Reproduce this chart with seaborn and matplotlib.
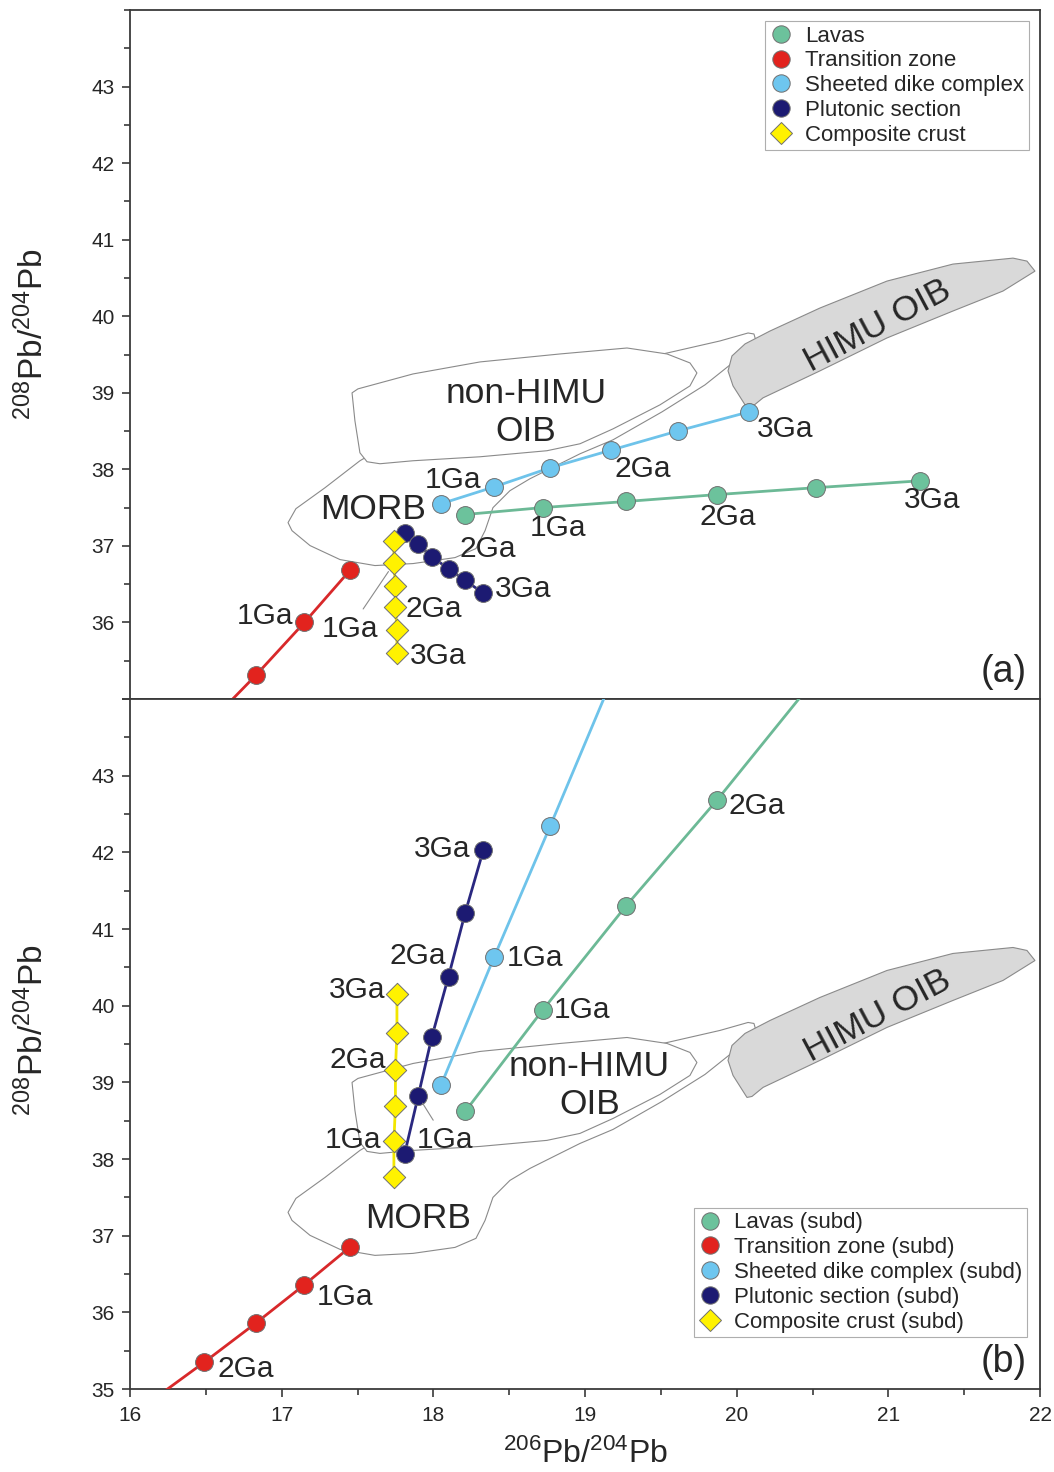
import numpy as np
import pandas as pd
import matplotlib
matplotlib.use("Agg")
import matplotlib.pyplot as plt
import seaborn as sns
from matplotlib.patches import Polygon
from matplotlib.lines import Line2D
from matplotlib.ticker import MultipleLocator

# ---------------------------------------------------------------------------
# Model evolution paths (points every 0.5 Ga, 0.5 -> 3 Ga)
# ---------------------------------------------------------------------------
lavas_x = [18.21, 18.72, 19.27, 19.87, 20.52, 21.21]
lavas_y_a = [37.41, 37.50, 37.58, 37.67, 37.76, 37.85]
lavas_y_b = [38.62, 39.94, 41.30, 42.68, 44.27, 45.96]

tz_x = [17.45, 17.15, 16.83, 16.49, 16.13, 15.75]
tz_y_a = [36.68, 36.00, 35.31, 34.62, 33.90, 33.15]
tz_y_b = [36.85, 36.36, 35.86, 35.35, 34.83, 34.29]

sdc_x = [18.05, 18.40, 18.77, 19.17, 19.61, 20.08]
sdc_y_a = [37.55, 37.77, 38.02, 38.25, 38.50, 38.75]
sdc_y_b = [38.96, 40.63, 42.34, 44.22, 46.28, 48.49]

plut_x = [17.81, 17.90, 17.99, 18.10, 18.21, 18.33]
plut_y_a = [37.17, 37.02, 36.86, 36.70, 36.55, 36.38]
plut_y_b = [38.06, 38.82, 39.59, 40.38, 41.21, 42.03]

comp_x = [17.74, 17.74, 17.75, 17.75, 17.76, 17.76]
comp_y_a = [37.06, 36.77, 36.48, 36.20, 35.90, 35.60]
comp_y_b = [37.76, 38.23, 38.69, 39.16, 39.65, 40.15]

# ---------------------------------------------------------------------------
# Reservoir fields
# ---------------------------------------------------------------------------
morb_x = [17.042, 17.094, 17.286, 17.516, 17.912, 18.835, 19.514, 19.890, 20.075,
          20.114, 20.127, 20.055, 19.791, 19.508, 19.185, 18.967, 18.835, 18.637,
          18.505, 18.393, 18.341, 18.281, 18.143, 17.866, 17.615, 17.385, 17.187, 17.068]
morb_y = [37.304, 37.486, 37.760, 38.112, 38.568, 39.155, 39.507, 39.677, 39.781,
          39.768, 39.677, 39.520, 39.103, 38.751, 38.386, 38.203, 38.073, 37.877,
          37.721, 37.499, 37.199, 36.965, 36.847, 36.769, 36.743, 36.821, 37.004, 37.199]

nonhimu_x = [17.464, 17.503, 17.866, 18.308, 18.835, 19.277, 19.541, 19.692, 19.738,
             19.692, 19.494, 19.185, 18.967, 18.749, 18.308, 17.866, 17.648, 17.563,
             17.516, 17.483]
nonhimu_y = [38.999, 39.051, 39.246, 39.403, 39.507, 39.585, 39.507, 39.390, 39.259,
             39.090, 38.842, 38.529, 38.334, 38.243, 38.164, 38.112, 38.073, 38.099,
             38.216, 38.634]

himu_x = [20.068, 19.976, 19.943, 19.969, 20.055, 20.220, 20.549, 20.991, 21.426,
          21.822, 21.914, 21.967, 21.756, 21.426, 20.991, 20.549, 20.174, 20.101]
himu_y = [38.803, 39.090, 39.286, 39.481, 39.638, 39.807, 40.107, 40.459, 40.681,
          40.759, 40.720, 40.589, 40.329, 40.068, 39.716, 39.286, 38.934, 38.816]

labels_a = ["Lavas", "Transition zone", "Sheeted dike complex",
            "Plutonic section", "Composite crust"]
labels_b = [s + " (subd)" for s in labels_a]

C_LAVA, C_LAVA_LN = "#6cc29c", "#6cb996"
C_TZ, C_TZ_LN = "#e2231e", "#d8282a"
C_SDC, C_SDC_LN = "#6ec6ef", "#6ec3ea"
C_PLUT, C_PLUT_LN = "#1c1a72", "#2a2880"
C_COMP, C_COMP_LN = "#fff200", "#f2e600"
EDGE = "#6f6f6f"

sns.set_style("ticks")
plt.rcParams["font.family"] = ["Liberation Sans", "DejaVu Sans"]
plt.rcParams["mathtext.fontset"] = "custom"
plt.rcParams["mathtext.rm"] = "Liberation Sans"
plt.rcParams["mathtext.it"] = "Liberation Sans:italic"
plt.rcParams["mathtext.bf"] = "Liberation Sans:bold"

W, H = 1054, 1472
fig = plt.figure(figsize=(W / 100, H / 100), dpi=100)
ax_a = fig.add_axes([130 / W, 1 - 699 / H, 910 / W, 689 / H])
ax_b = fig.add_axes([130 / W, 1 - 1389 / H, 910 / W, 690 / H])

GA_FS = 21.5
FIELD_FS = 25.5
TICK_FS = 15
PANEL_FS = 27


def draw_fields(ax):
    ax.add_patch(Polygon(np.column_stack([morb_x, morb_y]), closed=True,
                         facecolor="white", edgecolor="#8a8a8a", lw=0.8, zorder=1))
    ax.add_patch(Polygon(np.column_stack([nonhimu_x, nonhimu_y]), closed=True,
                         facecolor="white", edgecolor="#8a8a8a", lw=0.8, zorder=1.2))
    ax.add_patch(Polygon(np.column_stack([himu_x, himu_y]), closed=True,
                         facecolor="#d9d9d9", edgecolor="#8a8a8a", lw=0.8, zorder=1.4))


def draw_series(ax, x, y, fc, lc, marker, size):
    df = pd.DataFrame({"x": x, "y": y})
    sns.lineplot(data=df, x="x", y="y", sort=False, estimator=None, color=lc,
                 lw=2.0, ax=ax, zorder=3)
    sns.scatterplot(data=df, x="x", y="y", color=fc, marker=marker, s=size,
                    edgecolor=EDGE, linewidth=0.7, ax=ax, zorder=4)


def legend_handles():
    spec = [("o", C_LAVA, 12.5), ("o", C_TZ, 12.5), ("o", C_SDC, 12.5),
            ("o", C_PLUT, 12.5), ("D", C_COMP, 11.5)]
    return [Line2D([], [], ls="", marker=m, markersize=s, markerfacecolor=c,
                   markeredgecolor=EDGE, markeredgewidth=0.7) for m, c, s in spec]


def style_axes(ax):
    ax.set_xlim(16, 22)
    ax.set_ylim(35, 44)
    for sp in ax.spines.values():
        sp.set_color("#3a3a3a")
        sp.set_linewidth(1.3)
        sp.set_visible(True)
    ax.yaxis.set_minor_locator(MultipleLocator(0.5))
    ax.tick_params(axis="y", which="major", direction="out", length=6, width=1.2,
                   labelsize=TICK_FS, color="#3a3a3a", pad=5, right=False)
    ax.tick_params(axis="y", which="minor", direction="out", length=4, width=1.2,
                   color="#3a3a3a", right=False)
    ax.set_ylabel(r"$^{208}$Pb/$^{204}$Pb", fontsize=24)


def add_legend(ax, labels, **kw):
    leg = ax.legend(handles=legend_handles(), labels=labels, fontsize=16,
                    frameon=True, fancybox=False, borderpad=0.2,
                    labelspacing=0.17, handletextpad=0.6, handlelength=1.0, **kw)
    leg.get_frame().set_edgecolor("#9a9a9a")
    leg.get_frame().set_linewidth(0.8)
    return leg


# ---------------------------- panel (a) -------------------------------------
ax = ax_a
draw_fields(ax)
draw_series(ax, tz_x, tz_y_a, C_TZ, C_TZ_LN, "o", 165)
draw_series(ax, lavas_x, lavas_y_a, C_LAVA, C_LAVA_LN, "o", 165)
draw_series(ax, sdc_x, sdc_y_a, C_SDC, C_SDC_LN, "o", 165)
draw_series(ax, plut_x, plut_y_a, C_PLUT, C_PLUT_LN, "o", 165)
draw_series(ax, comp_x, comp_y_a, C_COMP, C_COMP_LN, "D", 130)
style_axes(ax)
ax.set_yticks(np.arange(35, 44))
ax.set_yticklabels([""] + [str(v) for v in range(36, 44)])
ax.tick_params(axis="x", which="both", bottom=False, top=False, labelbottom=False)
ax.set_xlabel("")
ax.yaxis.set_label_coords(-0.088, 0.53)

ax.text(18.61, 38.74, "non-HIMU\nOIB", fontsize=FIELD_FS, ha="center", va="center",
        linespacing=1.2, zorder=5)
ax.text(17.60, 37.47, "MORB", fontsize=FIELD_FS, ha="center", va="center", zorder=5)
ax.text(20.93, 39.87, "HIMU OIB", fontsize=FIELD_FS, ha="center", va="center",
        rotation=28, zorder=5)
for tx, ty, s in [(18.82, 37.23, "1Ga"), (19.94, 37.38, "2Ga"), (21.29, 37.60, "3Ga"),
                  (18.13, 37.86, "1Ga"), (19.38, 38.01, "2Ga"), (20.32, 38.53, "3Ga"),
                  (18.36, 36.96, "2Ga"), (18.59, 36.44, "3Ga"),
                  (18.00, 36.18, "2Ga"), (18.03, 35.56, "3Ga"),
                  (16.89, 36.08, "1Ga")]:
    ax.text(tx, ty, s, fontsize=GA_FS, ha="center", va="center", zorder=5)
ax.annotate("1Ga", xy=(comp_x[1], comp_y_a[1]), xytext=(17.45, 35.92),
            fontsize=GA_FS, ha="center", va="center", zorder=5,
            arrowprops=dict(arrowstyle="-", color="#8a8a8a", lw=0.8,
                            shrinkA=2, shrinkB=7))
ax.text(21.76, 35.35, "(a)", fontsize=PANEL_FS, ha="center", va="center")
add_legend(ax, labels_a, loc="upper right", borderaxespad=0.5)

# ---------------------------- panel (b) -------------------------------------
ax = ax_b
draw_fields(ax)
draw_series(ax, tz_x, tz_y_b, C_TZ, C_TZ_LN, "o", 165)
draw_series(ax, lavas_x, lavas_y_b, C_LAVA, C_LAVA_LN, "o", 165)
draw_series(ax, sdc_x, sdc_y_b, C_SDC, C_SDC_LN, "o", 165)
draw_series(ax, plut_x, plut_y_b, C_PLUT, C_PLUT_LN, "o", 165)
draw_series(ax, comp_x, comp_y_b, C_COMP, C_COMP_LN, "D", 130)
style_axes(ax)
ax.set_yticks(np.arange(35, 45))
ax.set_yticklabels([str(v) for v in range(35, 44)] + [""])
ax.set_xticks(np.arange(16, 23))
ax.xaxis.set_minor_locator(MultipleLocator(0.5))
ax.tick_params(axis="x", which="major", direction="out", length=6, width=1.2,
               labelsize=TICK_FS, color="#3a3a3a", pad=6, top=False)
ax.tick_params(axis="x", which="minor", direction="out", length=4, width=1.2,
               color="#3a3a3a", top=False)
ax.set_xlabel(r"$^{206}$Pb/$^{204}$Pb", fontsize=23, labelpad=10)
ax.yaxis.set_label_coords(-0.088, 0.52)

ax.text(19.03, 38.96, "non-HIMU\nOIB", fontsize=FIELD_FS, ha="center", va="center",
        linespacing=1.2, zorder=5)
ax.text(17.90, 37.23, "MORB", fontsize=FIELD_FS, ha="center", va="center", zorder=5)
ax.text(20.93, 39.87, "HIMU OIB", fontsize=FIELD_FS, ha="center", va="center",
        rotation=28, zorder=5)
for tx, ty, s in [(18.98, 39.94, "1Ga"), (20.13, 42.60, "2Ga"),
                  (18.67, 40.62, "1Ga"),
                  (18.06, 42.05, "3Ga"), (17.90, 40.65, "2Ga"),
                  (17.50, 40.20, "3Ga"), (17.50, 39.29, "2Ga"), (17.47, 38.25, "1Ga"),
                  (17.42, 36.20, "1Ga"), (16.76, 35.26, "2Ga")]:
    ax.text(tx, ty, s, fontsize=GA_FS, ha="center", va="center", zorder=5)
ax.annotate("1Ga", xy=(plut_x[1], plut_y_b[1]), xytext=(18.08, 38.25),
            fontsize=GA_FS, ha="center", va="center", zorder=5,
            arrowprops=dict(arrowstyle="-", color="#8a8a8a", lw=0.8,
                            shrinkA=2, shrinkB=6))
ax.text(21.76, 35.35, "(b)", fontsize=PANEL_FS, ha="center", va="center")
add_legend(ax, labels_b, loc="lower right",
           bbox_to_anchor=(1 - 13 / 910, 52 / 690), borderaxespad=0)

fig.savefig("out.png", dpi=100, facecolor="white")
